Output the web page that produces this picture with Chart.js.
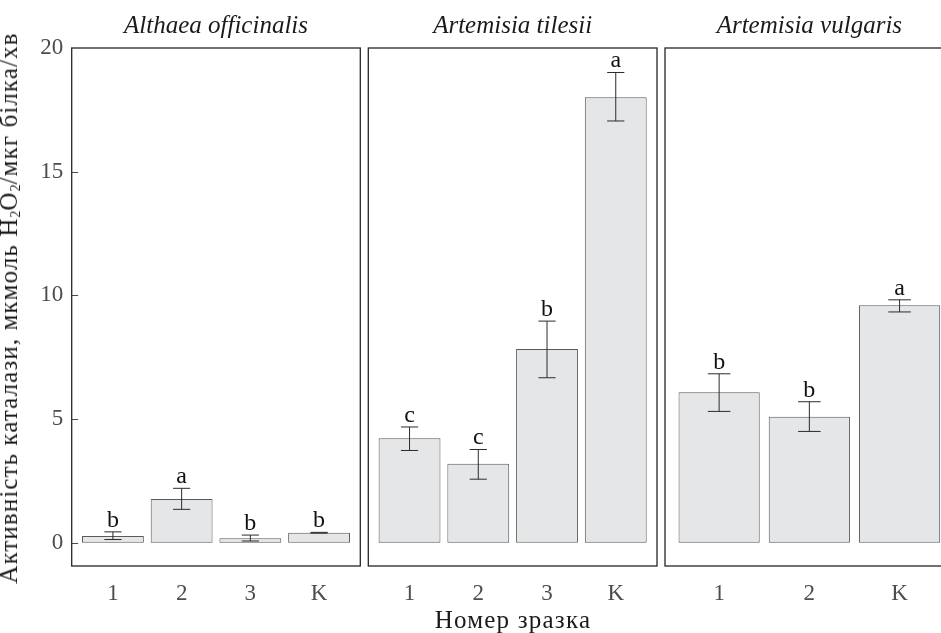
<!DOCTYPE html>
<html>
<head>
<meta charset="utf-8">
<script src="https://cdn.jsdelivr.net/npm/chart.js@4.4.1/dist/chart.umd.min.js"></script>
<style>
  html, body { margin: 0; padding: 0; background: #fff; overflow: hidden; }
  #wrap { position: relative; width: 941px; height: 633px; overflow: hidden; }
  #wrap canvas { position: absolute; top: 0; }
  .ytitle {
    position: absolute; left: 9px; top: 308px;
    transform: translate(-50%, -50%) rotate(-90deg);
    white-space: nowrap; font: 25px "Liberation Serif"; letter-spacing: 1.1px;
    line-height: 24px; color: #1a1a1a;
  }
  .ytitle sub { font-size: 14px; vertical-align: -3px; line-height: 0; letter-spacing: 0; }
  .xtitle {
    position: absolute; left: 513px; top: 607px; transform: translateX(-50%);
    white-space: nowrap; font: 25px "Liberation Serif"; letter-spacing: 1.2px;
    line-height: 25px; color: #1a1a1a;
  }
</style>
</head>
<body>
<div id="wrap">
  <canvas id="p1" width="363" height="633" style="left:0px"></canvas>
  <canvas id="p2" width="294" height="633" style="left:366px"></canvas>
  <canvas id="p3" width="295" height="633" style="left:663px"></canvas>
  <div class="ytitle">Активність каталази, мкмоль H<sub>2</sub>O<sub>2</sub>/мкг білка/хв</div>
  <div class="xtitle">Номер зразка</div>
</div>
<script>
// y axis (shared by all panels)
const yTicks = [0, 5, 10, 15, 20];
const yMin = -0.94, yMax = 20;

// Althaea officinalis
const althaeaLabels  = ["1", "2", "3", "K"];
const althaeaMean    = [0.27, 1.77, 0.18, 0.40];
const althaeaLow     = [0.13, 1.35, 0.07, 0.39];
const althaeaHigh    = [0.44, 2.20, 0.31, 0.42];
const althaeaLetters = ["b", "a", "b", "b"];

// Artemisia tilesii
const tilesiiLabels  = ["1", "2", "3", "K"];
const tilesiiMean    = [4.22, 3.19, 7.83, 18.01];
const tilesiiLow     = [3.73, 2.57, 6.67, 17.05];
const tilesiiHigh    = [4.68, 3.77, 8.96, 19.01];
const tilesiiLetters = ["c", "c", "b", "a"];

// Artemisia vulgaris
const vulgarisLabels  = ["1", "2", "K"];
const vulgarisMean    = [6.08, 5.09, 9.60];
const vulgarisLow     = [5.31, 4.50, 9.33];
const vulgarisHigh    = [6.83, 5.70, 9.82];
const vulgarisLetters = ["b", "b", "a"];

Chart.defaults.font.family = '"Liberation Serif", "DejaVu Serif", serif';

const CAP_HALF = 0.125; // half width of error bar caps, in x units

// draws error bars, letters, panel frame and strip title
function makeDeco(p) {
  return {
    id: "deco",
    afterDatasetsDraw(chart) {
      const { ctx, chartArea: a, scales: { x, y } } = chart;
      ctx.save();
      ctx.strokeStyle = "#2b2b2b";
      ctx.lineWidth = 1;
      ctx.fillStyle = "#111";
      ctx.font = '24px "Liberation Serif"';
      ctx.textAlign = "center";
      ctx.textBaseline = "alphabetic";
      p.mean.forEach((m, i) => {
        const px = x.getPixelForValue(i + 1);
        const half = x.getPixelForValue(i + 1 + CAP_HALF) - px;
        const yl = y.getPixelForValue(p.low[i]);
        const yh = y.getPixelForValue(p.high[i]);
        ctx.beginPath();
        ctx.moveTo(px, yl); ctx.lineTo(px, yh);
        ctx.moveTo(px - half, yl); ctx.lineTo(px + half, yl);
        ctx.moveTo(px - half, yh); ctx.lineTo(px + half, yh);
        ctx.stroke();
        ctx.fillText(p.letters[i], px, yh - 5);
      });

      // y tick marks (first panel only)
      if (p.yAxis) {
        ctx.strokeStyle = "#4d4d4d";
        ctx.beginPath();
        yTicks.forEach(t => {
          if (t >= yMax) return;
          const py = Math.round(y.getPixelForValue(t)) + 0.5;
          ctx.moveTo(a.left, py); ctx.lineTo(a.left + 6.5, py);
        });
        ctx.stroke();
      }

      ctx.strokeStyle = "#262626";
      ctx.lineWidth = 1.3;
      ctx.strokeRect(a.left, a.top, a.right - a.left, a.bottom - a.top);

      ctx.fillStyle = "#1a1a1a";
      ctx.font = 'italic 25px "Liberation Serif"';
      ctx.fillText(p.title, (a.left + a.right) / 2, 33);
      ctx.restore();
    }
  };
}

function makePanel(id, p) {
  const n = p.labels.length;
  return new Chart(document.getElementById(id), {
    type: "bar",
    data: {
      datasets: [{
        data: p.mean.map((v, i) => ({ x: i + 1, y: v })),
        backgroundColor: "#e5e6e8",
        borderColor: "#5a5a5a",
        borderWidth: 1,
        borderSkipped: false,
        categoryPercentage: 0.9,
        barPercentage: 1
      }]
    },
    options: {
      responsive: false,
      animation: false,
      layout: { padding: { top: 48, bottom: 0, left: p.padLeft, right: p.padRight } },
      plugins: { legend: { display: false }, tooltip: { enabled: false }, title: { display: false } },
      scales: {
        x: {
          type: "linear",
          offset: false,
          bounds: "data",
          min: 0.4,
          max: n + 0.6,
          grid: { display: false, drawTicks: false, offset: false },
          border: { display: false },
          afterBuildTicks: s => { s.ticks = p.labels.map((l, i) => ({ value: i + 1 })); },
          afterFit: s => { s.height = 67; },
          ticks: {
            autoSkip: false, maxRotation: 0, padding: 14,
            color: "#4d4d4d", font: { size: 23 },
            callback: v => p.labels[v - 1]
          }
        },
        y: {
          display: p.yAxis,
          bounds: "data",
          min: yMin,
          max: yMax,
          grid: { display: false, drawTicks: false },
          border: { display: false },
          afterBuildTicks: s => { s.ticks = yTicks.map(v => ({ value: v })); },
          afterFit: s => { if (p.yAxis) s.width = 71.7; },
          ticks: { padding: 8.5, color: "#4d4d4d", font: { size: 23 } }
        }
      }
    },
    plugins: [makeDeco(p)]
  });
}

makePanel("p1", { title: "Althaea officinalis", labels: althaeaLabels, mean: althaeaMean, low: althaeaLow, high: althaeaHigh, letters: althaeaLetters, yAxis: true, padLeft: 0, padRight: 2.7 });
makePanel("p2", { title: "Artemisia tilesii", labels: tilesiiLabels, mean: tilesiiMean, low: tilesiiLow, high: tilesiiHigh, letters: tilesiiLetters, yAxis: false, padLeft: 2.3, padRight: 3.0 });
makePanel("p3", { title: "Artemisia vulgaris", labels: vulgarisLabels, mean: vulgarisMean, low: vulgarisLow, high: vulgarisHigh, letters: vulgarisLetters, yAxis: false, padLeft: 2, padRight: 4.3 });
</script>
</body>
</html>
